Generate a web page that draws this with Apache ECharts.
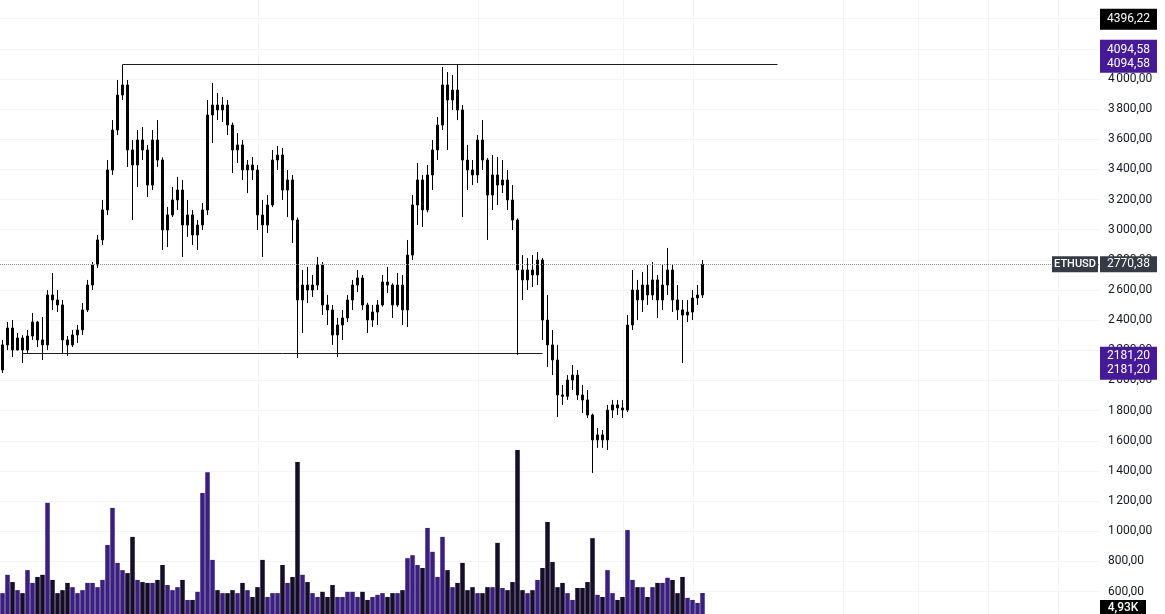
<!DOCTYPE html>
<html><head><meta charset="utf-8">
<script src="https://cdn.jsdelivr.net/npm/echarts@6/dist/echarts.min.js"></script>
<style>html,body{margin:0;padding:0;background:#fff}#main{width:1165px;height:614px}</style>
</head><body><div id="main"></div>
<script>
// ---- data ----
const symbol = 'ETHUSD';
const opens = [2070,2236,2348,2202,2282,2202,2295,2388,2269,2236,
2567,2534,2501,2269,2236,2302,2335,2468,2633,2766,
2932,3131,3396,3661,3893,3960,3529,3429,3595,3529,
3296,3595,3462,2998,3098,3197,3263,3031,3098,2965,
3031,3131,3761,3827,3794,3827,3694,3529,3562,3396,
3429,3396,3098,3031,3164,3462,3495,3263,3330,3064,
2534,2633,2600,2633,2766,2501,2468,2302,2368,2415,
2534,2633,2680,2501,2401,2454,2501,2653,2633,2501,
2633,2468,2832,3164,3330,3131,3363,3529,3694,3960,
3860,3926,3794,3462,3396,3363,3595,3462,3230,3363,
3296,3330,3197,3064,2733,2667,2733,2700,2799,2401,
2236,2136,1904,1895,2003,2036,1904,1871,1771,1606,
1639,1606,1804,1838,1818,1804,2368,2600,2534,2633,
2567,2667,2534,2633,2733,2534,2468,2434,2454,2547,
2567];
const closes = [2236,2348,2202,2282,2202,2295,2388,2269,2236,2567,
2534,2501,2269,2236,2302,2335,2468,2633,2766,2932,
3131,3396,3661,3893,3960,3529,3429,3595,3529,3296,
3595,3462,2998,3098,3197,3263,3031,3098,2965,3031,
3131,3761,3827,3794,3827,3694,3529,3562,3396,3429,
3396,3098,3031,3164,3462,3495,3263,3330,3064,2534,
2633,2600,2633,2766,2501,2468,2302,2368,2415,2534,
2633,2680,2501,2401,2454,2501,2653,2633,2501,2633,
2468,2832,3164,3330,3131,3363,3529,3694,3960,3860,
3926,3794,3462,3396,3363,3595,3462,3230,3363,3296,
3330,3197,3064,2733,2667,2733,2700,2799,2401,2236,
2136,1904,1895,2003,2036,1904,1871,1771,1606,1639,
1606,1804,1838,1818,1804,2368,2600,2534,2633,2567,
2667,2534,2633,2733,2534,2468,2434,2454,2547,2567,
2770.38];
const lows = [2050,2202,2156,2202,2116,2183,2269,2222,2136,2202,
2468,2454,2183,2163,2222,2249,2302,2454,2600,2746,
2899,3098,3363,3628,3860,3416,3064,3283,3462,3217,
3263,3416,2865,2885,3084,3131,2819,2952,2899,2865,
2998,3098,3575,3727,3714,3628,3376,3442,3330,3243,
3330,2998,2819,2978,3150,3396,3197,3084,2912,2150,
2315,2514,2554,2600,2434,2368,2236,2156,2269,2388,
2468,2587,2468,2315,2355,2368,2490,2580,2415,2488,
2368,2355,2799,3031,3018,3115,3263,3462,3661,3529,
3794,3727,3084,3263,3296,3310,3396,2932,3131,3164,
3243,3131,2998,2169,2534,2600,2620,2633,2269,2090,
2036,1758,1838,1871,1937,1871,1785,1751,1387,1553,
1553,1539,1751,1771,1751,1791,2335,2401,2454,2501,
2534,2415,2468,2567,2454,2401,2116,2388,2401,2501,
2547];
const highs = [2269,2388,2401,2315,2300,2335,2448,2395,2421,2600,
2713,2600,2534,2295,2335,2368,2514,2667,2786,2965,
3197,3462,3727,3993,4094.58,3993,3595,3661,3681,3562,
3661,3727,3480,3151,3283,3350,3330,3197,3131,3064,
3177,3860,3973,3907,3880,3860,3710,3641,3595,3462,
3482,3429,3197,3230,3529,3555,3542,3396,3363,3080,
2733,2753,2700,2819,2786,2567,2501,2415,2468,2567,
2667,2733,2700,2515,2501,2534,2700,2753,2645,2713,
2700,2932,3230,3442,3363,3429,3595,3747,4079,4046,
4026,4094.58,3827,3562,3462,3628,3727,3475,3495,3482,
3462,3396,3296,3075,2832,2812,2832,2852,2812,2567,
2335,2236,1970,2036,2103,2070,1970,1937,1780,1685,
1672,1838,1871,1871,1871,2434,2733,2667,2720,2766,
2786,2700,2766,2879,2766,2633,2534,2534,2600,2633,
2799];
// volume in thousands
const volumes = [4.9,9.2,7.5,5.6,4.9,10.3,7.3,8.7,9.2,26.1,
8.0,4.9,5.6,7.3,6.3,4.9,5.6,7.3,7.3,6.3,
8.0,16.2,24.9,12.0,10.3,9.6,18.1,8.0,7.5,7.3,
7.3,8.0,11.5,6.8,5.6,6.3,8.0,3.3,3.3,5.2,
28.4,33.3,12.7,5.6,4.9,4.9,5.6,4.9,7.3,5.6,
4.0,6.3,12.7,4.0,4.9,4.9,11.5,7.3,8.7,35.7,
9.2,7.5,4.9,4.0,5.2,4.0,6.8,4.0,4.0,5.2,
5.2,4.0,5.2,3.3,4.0,4.5,4.9,4.0,4.9,4.9,
5.6,13.1,13.8,11.5,10.8,20.2,14.6,8.7,18.1,10.3,
6.3,7.3,12.0,5.6,6.3,4.9,4.9,6.3,6.3,16.7,
6.1,5.6,7.5,38.5,5.6,4.9,5.6,8.0,10.8,21.6,
12.2,6.3,7.3,4.9,3.3,6.1,6.1,7.5,17.8,4.5,
4.0,10.3,4.9,3.3,4.0,19.7,8.0,6.3,6.3,4.0,
6.3,7.3,7.3,8.5,8.0,4.9,8.7,3.8,3.3,2.6,
4.93];
const resistance = 4094.58;
const support = 2181.20;
const lastPrice = 2770.38;
const markerPrice = 4396.22;
const lastVolume = 4.93;
const resistanceSpan = [24, 155];   // category indices
const supportSpan = [4, 108];
const timeGridIdx = [51, 95, 124, 138, 168, 183, 197, 211];
const slotCount = 220;              // bars + empty right margin slots
const categories = Array.from({length: slotCount}, (_, i) => 'T' + (i + 1));

// ---- helpers ----
const PURPLE = '#461a96';
const FONT = 'Roboto, "Noto Sans", sans-serif';
function fmtPrice(v){ return v.toFixed(2).replace('.', ','); }
function fmtTick(v){
  const s = v.toFixed(2).split('.');
  const int = s[0].replace(/\B(?=(\d{3})+(?!\d))/g, '\u202F');
  return int + ',' + s[1];
}

const chart = echarts.init(document.getElementById('main'));
const candleData = opens.map((o, i) => [o, closes[i], lows[i], highs[i]]);
const volData = volumes.map((v, i) => ({
  value: v,
  itemStyle: { color: closes[i] >= opens[i] ? '#3a1f7e' : '#150d2a' }
}));

const option = {
  animation: false,
  grid: [
    { left: 0, right: 65, top: 18.6, bottom: 22.4 },
    { left: 0, right: 65, bottom: 0, height: 213 }
  ],
  xAxis: [
    { type: 'category', data: categories, gridIndex: 0, show: false, boundaryGap: true },
    { type: 'category', data: categories, gridIndex: 1, show: false, boundaryGap: true }
  ],
  yAxis: [
    { type: 'value', gridIndex: 0, position: 'right', min: 600, max: 4400, interval: 200,
      axisLine: { show: false }, axisTick: { show: false },
      splitLine: { lineStyle: { color: '#f3f4f7', width: 1 } },
      axisLabel: { align: 'left', margin: 8, color: '#131722', fontSize: 12, fontFamily: FONT, formatter: fmtTick } },
    { type: 'value', gridIndex: 1, min: 0, max: 50, show: false, splitLine: { show: false } }
  ],
  series: [
    { type: 'bar', xAxisIndex: 1, yAxisIndex: 1, data: volData, barWidth: 4.5, silent: true },
    { type: 'candlestick', xAxisIndex: 0, yAxisIndex: 0, data: candleData, barWidth: 3, silent: true,
      itemStyle: { color: '#000', color0: '#000', borderColor: '#000', borderColor0: '#000', borderWidth: 1 },
      markLine: {
        silent: true, symbol: ['none', 'none'], label: { show: false }, animation: false,
        data: [
          [{ coord: [resistanceSpan[0], resistance], lineStyle: { color: '#1e1e1e', width: 1, type: 'solid' } },
           { coord: [resistanceSpan[1], resistance] }],
          [{ coord: [supportSpan[0], support], lineStyle: { color: '#1e1e1e', width: 1, type: 'solid' } },
           { coord: [supportSpan[1], support] }],
          { yAxis: lastPrice, lineStyle: { color: '#8a8d96', width: 1, type: 'dotted' } }
        ]
      }
    }
  ]
};
chart.setOption(option);

// ---- overlay tags positioned via the chart's own scales ----
const W = chart.getWidth(), H = chart.getHeight();
const scaleLeft = W - 65;
const yOf = v => chart.convertToPixel({ yAxisIndex: 0 }, v);
const xOf = i => chart.convertToPixel({ xAxisIndex: 0 }, i);
function box(x, y, w, h, fill, z){ return { type: 'rect', silent: true, z: z || 100, shape: { x, y, width: w, height: h }, style: { fill } }; }
function txt(x, y, text, size, weight){
  return { type: 'text', silent: true, z: 101,
    style: { text, x, y, fill: '#ffffff', font: (weight || 'normal') + ' ' + size + 'px ' + FONT,
      align: 'center', verticalAlign: 'middle', textAlign: 'center', textVerticalAlign: 'middle' } };
}
const g = [];
timeGridIdx.forEach(i => {
  const x = Math.round(xOf(i)) + 0.5;
  g.push({ type: 'line', silent: true, z: 0, shape: { x1: x, y1: 0, x2: x, y2: H }, style: { stroke: '#f3f4f7', lineWidth: 1 } });
});
const tagW = 57, cx = scaleLeft + tagW / 2;
// marker price
const ym = yOf(markerPrice);
g.push(box(scaleLeft, ym - 10.5, tagW, 21, '#000000'));
g.push(txt(cx, ym, fmtPrice(markerPrice), 12));
// resistance double tag
const yr = yOf(resistance);
g.push(box(scaleLeft, yr - 25, tagW, 33, PURPLE));
g.push(txt(cx, yr - 15, fmtPrice(resistance), 12));
g.push(txt(cx, yr - 1, fmtPrice(resistance), 12));
// support double tag
const ys = yOf(support);
g.push(box(scaleLeft, ys - 6.5, tagW, 33, PURPLE));
g.push(txt(cx, ys + 2.5, fmtPrice(support), 12));
g.push(txt(cx, ys + 17, fmtPrice(support), 12));
// last price + symbol
const yl = yOf(lastPrice);
g.push(box(scaleLeft - 48, yl - 8, 46, 16, '#363a45'));
g.push(txt(scaleLeft - 25, yl, symbol, 11, '500'));
g.push(box(scaleLeft, yl - 8, tagW, 16, '#363a45'));
g.push(txt(cx, yl, fmtPrice(lastPrice), 12));
// last volume
g.push(box(scaleLeft, H - 14, 46, 20, '#000000'));
g.push(txt(scaleLeft + 23, H - 6, lastVolume.toFixed(2).replace('.', ',') + 'K', 12, '500'));
chart.setOption({ graphic: g });
</script>
</body></html>
